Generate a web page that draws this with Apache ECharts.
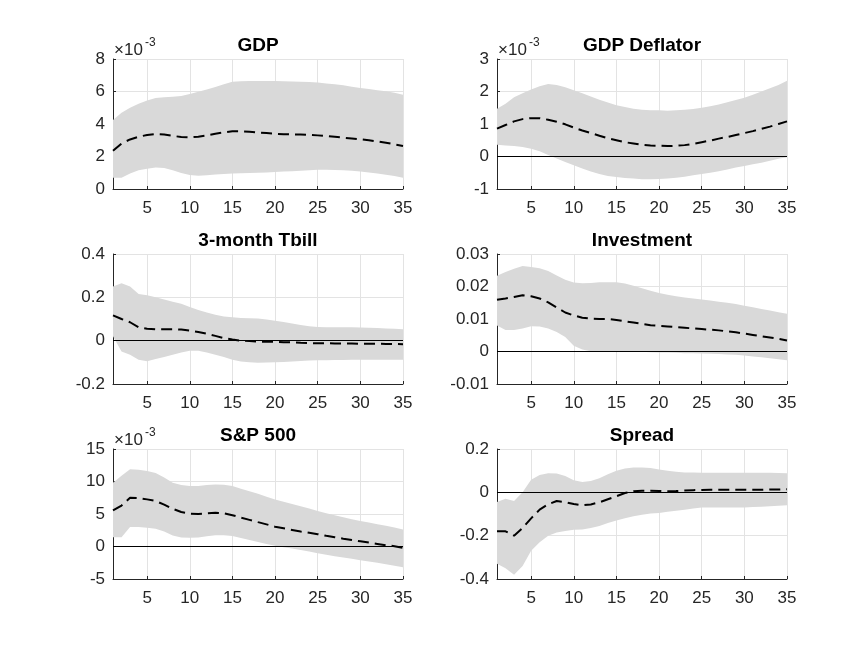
<!DOCTYPE html>
<html>
<head>
<meta charset="utf-8">
<script src="https://cdn.jsdelivr.net/npm/echarts@6/dist/echarts.min.js"></script>
<style>
  html, body { margin: 0; background: #fff; }
  #chart { width: 868px; height: 651px; }
</style>
</head>
<body>
<div id="chart"></div>
<script>
// horizon (quarters) and tick labels
const horizon = [1, 2, 3, 4, 5, 6, 7, 8, 9, 10, 11, 12, 13, 14, 15, 16, 17, 18, 19, 20,
  21, 22, 23, 24, 25, 26, 27, 28, 29, 30, 31, 32, 33, 34, 35];
const xTicks = [5, 10, 15, 20, 25, 30, 35];

// GDP (x10^-3)
const gdpMean = [2.35, 2.8, 3.05, 3.22, 3.32, 3.38, 3.35, 3.27, 3.2, 3.18, 3.22, 3.3, 3.4, 3.48, 3.55,
  3.55, 3.52, 3.48, 3.44, 3.4, 3.37, 3.36, 3.35, 3.33, 3.3, 3.26, 3.21, 3.16, 3.11, 3.06, 3.0, 2.93, 2.85, 2.75, 2.65];
const gdpUpper = [4.25, 4.7, 5.0, 5.25, 5.45, 5.6, 5.65, 5.68, 5.72, 5.85, 5.98, 6.12, 6.28, 6.45, 6.6,
  6.63, 6.64, 6.65, 6.65, 6.65, 6.63, 6.62, 6.6, 6.58, 6.55, 6.5, 6.44, 6.38, 6.3, 6.22, 6.15, 6.08, 6.02, 5.92, 5.8];
const gdpLower = [0.7, 0.7, 0.95, 1.15, 1.25, 1.32, 1.3, 1.15, 0.98, 0.86, 0.82, 0.84, 0.9, 0.93, 0.96,
  0.97, 0.98, 1.0, 1.02, 1.04, 1.07, 1.1, 1.12, 1.15, 1.18, 1.18, 1.17, 1.15, 1.12, 1.08, 1.02, 0.96, 0.88, 0.8, 0.7];

// GDP Deflator (x10^-3)
const deflMean = [0.86, 0.97, 1.08, 1.15, 1.18, 1.18, 1.13, 1.07, 0.99, 0.89, 0.8, 0.72, 0.64, 0.56, 0.5,
  0.44, 0.4, 0.36, 0.34, 0.33, 0.32, 0.33, 0.35, 0.39, 0.44, 0.49, 0.55, 0.6, 0.66, 0.72, 0.78, 0.85, 0.92, 1.0, 1.08];
const deflUpper = [1.47, 1.62, 1.82, 1.95, 2.06, 2.16, 2.23, 2.2, 2.13, 2.04, 1.95, 1.85, 1.75, 1.66, 1.58,
  1.52, 1.47, 1.44, 1.42, 1.42, 1.41, 1.42, 1.44, 1.46, 1.5, 1.55, 1.6, 1.67, 1.74, 1.81, 1.9, 2.0, 2.1, 2.2, 2.33];
const deflLower = [0.36, 0.34, 0.32, 0.29, 0.24, 0.16, 0.05, -0.06, -0.17, -0.27, -0.37, -0.46, -0.54, -0.6, -0.63,
  -0.66, -0.68, -0.7, -0.7, -0.69, -0.68, -0.65, -0.62, -0.58, -0.54, -0.5, -0.45, -0.4, -0.34, -0.29, -0.24, -0.19, -0.13, -0.07, -0.02];

// 3-month Tbill
const tbillMean = [0.117, 0.1, 0.085, 0.062, 0.055, 0.053, 0.053, 0.053, 0.051, 0.046, 0.04, 0.032, 0.022, 0.012, 0.005,
  0.0, -0.002, -0.004, -0.005, -0.005, -0.007, -0.008, -0.01, -0.011, -0.012, -0.012, -0.013, -0.013, -0.013, -0.014,
  -0.014, -0.014, -0.015, -0.015, -0.016];
const tbillUpper = [0.25, 0.265, 0.25, 0.215, 0.21, 0.2, 0.19, 0.18, 0.17, 0.155, 0.142, 0.13, 0.12, 0.112, 0.108,
  0.105, 0.104, 0.102, 0.098, 0.092, 0.086, 0.079, 0.072, 0.066, 0.063, 0.062, 0.062, 0.062, 0.062, 0.061,
  0.06, 0.058, 0.056, 0.055, 0.053];
const tbillLower = [0.02, -0.05, -0.065, -0.088, -0.095, -0.085, -0.075, -0.065, -0.055, -0.047, -0.047, -0.055, -0.065, -0.075, -0.088,
  -0.096, -0.1, -0.102, -0.101, -0.1, -0.098, -0.096, -0.094, -0.092, -0.09, -0.09, -0.089, -0.089, -0.088, -0.088,
  -0.088, -0.088, -0.088, -0.088, -0.088];

// Investment
const invMean = [0.0159, 0.0163, 0.0168, 0.0173, 0.017, 0.0163, 0.0151, 0.0135, 0.012, 0.0111, 0.0104, 0.0101, 0.01, 0.01, 0.0097,
  0.0093, 0.0089, 0.0085, 0.0081, 0.0079, 0.0077, 0.0075, 0.0073, 0.0071, 0.0069, 0.0067, 0.0065, 0.0062, 0.0059, 0.0055,
  0.0051, 0.0047, 0.0043, 0.0039, 0.0034];
const invUpper = [0.0233, 0.0245, 0.0255, 0.0263, 0.026, 0.0256, 0.0248, 0.0234, 0.0221, 0.0212, 0.021, 0.0211, 0.0213, 0.0213, 0.0213,
  0.0209, 0.0202, 0.0195, 0.0187, 0.018, 0.0175, 0.017, 0.0166, 0.0163, 0.016, 0.0157, 0.0153, 0.015, 0.0146, 0.0141,
  0.0136, 0.0131, 0.0126, 0.0121, 0.0116];
const invLower = [0.008, 0.0066, 0.0066, 0.0071, 0.0078, 0.0077, 0.0071, 0.006, 0.0045, 0.0018, 0.0006, 0.0001, 0.0, -0.0001, 0.0,
  0.0, -0.0001, -0.0001, -0.0002, -0.0003, -0.0003, -0.0004, -0.0005, -0.0005, -0.0006, -0.0007, -0.0008, -0.0009, -0.001, -0.0012,
  -0.0015, -0.0018, -0.0021, -0.0024, -0.0027];

// S&P 500 (x10^-3)
const spMean = [5.55, 6.3, 7.5, 7.45, 7.25, 7.0, 6.45, 5.8, 5.3, 5.05, 5.0, 5.1, 5.2, 5.1, 4.82,
  4.45, 4.1, 3.75, 3.4, 3.05, 2.8, 2.55, 2.3, 2.1, 1.9, 1.65, 1.42, 1.2, 1.0, 0.8, 0.6, 0.4, 0.2, 0.05, -0.2];
const spUpper = [9.8, 10.9, 11.9, 11.8, 11.6, 11.3, 10.6, 9.8, 9.45, 9.3, 9.3, 9.45, 9.55, 9.5, 9.3,
  8.9, 8.5, 8.1, 7.65, 7.25, 6.9, 6.55, 6.2, 5.85, 5.45, 5.1, 4.8, 4.5, 4.2, 3.92, 3.68, 3.42, 3.18, 2.92, 2.6];
const spLower = [1.44, 1.44, 3.0, 3.0, 2.9, 2.75, 2.3, 1.7, 1.4, 1.35, 1.4, 1.58, 1.72, 1.75, 1.6,
  1.3, 1.0, 0.7, 0.4, 0.1, -0.12, -0.32, -0.52, -0.75, -1.05, -1.28, -1.5, -1.7, -1.9, -2.1, -2.3, -2.5, -2.72, -2.95, -3.2];

// Spread
const spreadMean = [-0.18, -0.18, -0.2, -0.165, -0.12, -0.08, -0.055, -0.04, -0.045, -0.054, -0.06, -0.056, -0.046, -0.032, -0.018,
  -0.003, 0.005, 0.007, 0.007, 0.006, 0.005, 0.006, 0.008, 0.01, 0.011, 0.012, 0.012, 0.012, 0.012, 0.012,
  0.012, 0.012, 0.013, 0.013, 0.014];
const spreadUpper = [-0.045, -0.03, -0.04, 0.0, 0.058, 0.08, 0.088, 0.087, 0.075, 0.056, 0.048, 0.052, 0.065, 0.083, 0.1,
  0.11, 0.115, 0.115, 0.112, 0.105, 0.1, 0.095, 0.092, 0.091, 0.09, 0.09, 0.09, 0.09, 0.09, 0.09,
  0.09, 0.09, 0.09, 0.089, 0.088];
const spreadLower = [-0.33, -0.35, -0.38, -0.34, -0.27, -0.23, -0.2, -0.185, -0.178, -0.173, -0.172, -0.165, -0.155, -0.142, -0.13,
  -0.12, -0.11, -0.103, -0.098, -0.095, -0.09, -0.085, -0.08, -0.075, -0.07, -0.07, -0.07, -0.07, -0.07, -0.07,
  -0.068, -0.066, -0.064, -0.062, -0.06];

const panels = [
  { title: 'GDP', mean: gdpMean, upper: gdpUpper, lower: gdpLower, min: 0, max: 8, step: 2, exp: true, zero: false },
  { title: 'GDP Deflator', mean: deflMean, upper: deflUpper, lower: deflLower, min: -1, max: 3, step: 1, exp: true, zero: true },
  { title: '3-month Tbill', mean: tbillMean, upper: tbillUpper, lower: tbillLower, min: -0.2, max: 0.4, step: 0.2, exp: false, zero: true },
  { title: 'Investment', mean: invMean, upper: invUpper, lower: invLower, min: -0.01, max: 0.03, step: 0.01, exp: false, zero: true },
  { title: 'S&P 500', mean: spMean, upper: spUpper, lower: spLower, min: -5, max: 15, step: 5, exp: true, zero: true },
  { title: 'Spread', mean: spreadMean, upper: spreadUpper, lower: spreadLower, min: -0.4, max: 0.2, step: 0.2, exp: false, zero: true }
];

const colLeft = [113, 497];
const rowTop = [59, 254, 449];
const plotW = 290;
const plotH = 130;
const axisColor = '#262626';
const gridColor = '#e3e3e3';
const bandColor = '#d9d9d9';
const font = '"Liberation Sans", Arial, Helvetica, sans-serif';

const chart = echarts.init(document.getElementById('chart'));

const grid = [], xAxis = [], yAxis = [], series = [], title = [];

panels.forEach((p, i) => {
  const left = colLeft[i % 2];
  const top = rowTop[Math.floor(i / 2)];
  grid.push({ left: left, top: top, width: plotW, height: plotH, containLabel: false });

  xAxis.push({
    type: 'value', gridIndex: i, min: 1, max: 35,
    axisLine: { show: true, onZero: false, lineStyle: { color: axisColor, width: 1 } },
    axisTick: { show: true, inside: true, length: 3, customValues: xTicks, lineStyle: { color: axisColor } },
    axisLabel: { customValues: xTicks, color: axisColor, fontSize: 17, fontFamily: font, margin: 11 },
    splitLine: { show: true, lineStyle: { color: gridColor, width: 1 } }
  });

  yAxis.push({
    type: 'value', gridIndex: i, min: p.min, max: p.max, interval: p.step,
    axisLine: { show: true, onZero: false, lineStyle: { color: axisColor, width: 1 } },
    axisTick: { show: true, inside: true, length: 3, lineStyle: { color: axisColor } },
    axisLabel: {
      color: axisColor, fontSize: 17, fontFamily: font, margin: 8,
      formatter: v => String(Math.round(v * 1e6) / 1e6)
    },
    splitLine: { show: true, lineStyle: { color: gridColor, width: 1 } }
  });

  title.push({
    text: p.title, left: left + plotW / 2, top: top - 23, textAlign: 'center', padding: 0,
    textStyle: { fontSize: 19, fontWeight: 'bold', color: '#000', fontFamily: font }
  });
  if (p.exp) {
    title.push({
      text: '×10', left: left + 1, top: top - 17, padding: 0,
      textStyle: { fontSize: 17, fontWeight: 'normal', color: axisColor, fontFamily: font }
    });
    title.push({
      text: '-3', left: left + 32, top: top - 22, padding: 0,
      textStyle: { fontSize: 12, fontWeight: 'normal', color: axisColor, fontFamily: font }
    });
  }

  // confidence band: one polygon through upper points, back along lower points
  series.push({
    type: 'custom', xAxisIndex: i, yAxisIndex: i, silent: true, clip: true, z: 2,
    data: horizon.map((h, k) => [h, p.lower[k], p.upper[k]]),
    encode: { x: 0, y: [1, 2] },
    renderItem: (params, api) => {
      if (params.dataIndex !== 0) return null;
      const pts = horizon.map((h, k) => api.coord([h, p.upper[k]]));
      for (let k = horizon.length - 1; k >= 0; k--) pts.push(api.coord([horizon[k], p.lower[k]]));
      return { type: 'polygon', shape: { points: pts }, style: { fill: bandColor, stroke: null } };
    }
  });

  const mean = {
    type: 'line', xAxisIndex: i, yAxisIndex: i, symbol: 'none', silent: true, z: 6,
    data: horizon.map((h, k) => [h, p.mean[k]]),
    lineStyle: { color: '#000', width: 2, type: [11, 6] }
  };
  if (p.zero) {
    mean.markLine = {
      silent: true, symbol: 'none', label: { show: false }, z: 4,
      lineStyle: { color: '#000', width: 1, type: 'solid' },
      data: [{ yAxis: 0 }]
    };
  }
  series.push(mean);
});

chart.setOption({
  animation: false,
  backgroundColor: '#fff',
  title: title,
  grid: grid,
  xAxis: xAxis,
  yAxis: yAxis,
  series: series
});

window.addEventListener('resize', () => chart.resize());
</script>
</body>
</html>
